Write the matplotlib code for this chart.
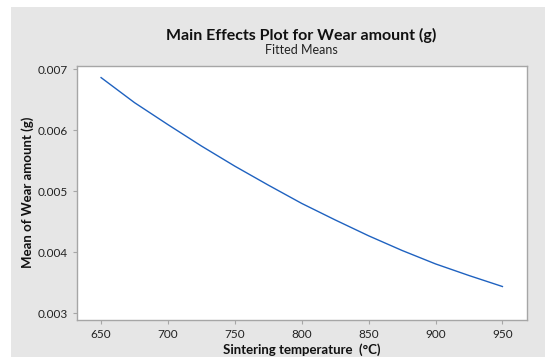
import numpy as np
import matplotlib.pyplot as plt
from matplotlib.patches import Rectangle

# sintering temperature (C) and fitted mean wear amount (g)
temps = [650, 675, 700, 725, 750, 775, 800, 825, 850, 875, 900, 925, 950]
wear = [0.00686, 0.00645, 0.00609, 0.00574, 0.00541, 0.00510, 0.00480,
        0.00453, 0.00427, 0.00403, 0.00381, 0.00362, 0.00344]

xticks = [650, 700, 750, 800, 850, 900, 950]
yticks = [0.003, 0.004, 0.005, 0.006, 0.007]

plt.rcParams['font.family'] = ['Lato', 'DejaVu Sans']

fig = plt.figure(figsize=(5.45, 3.58), dpi=100)
fig.patch.set_facecolor('white')
# grey panel behind the plot
fig.patches.append(Rectangle((11 / 545, 1 / 358), 1, 1 - 8 / 358,
                             transform=fig.transFigure, facecolor='#e6e6e6',
                             edgecolor='none', zorder=-1))

ax = fig.add_axes([77 / 545, 1 - 319.5 / 358, (526.5 - 77) / 545, (319.5 - 66) / 358])
ax.set_zorder(2)
ax.set_facecolor('white')
ax.plot(temps, wear, color='#1f62c0', lw=1.0)

ax.set_xlim(632, 968)
ax.set_ylim(0.0029, 0.00705)
ax.set_xticks(xticks)
ax.set_yticks(yticks)
ax.set_yticklabels(['%.3f' % v for v in yticks])
for s in ax.spines.values():
    s.set_color('#a6a6a6')
    s.set_linewidth(1.0)
ax.tick_params(colors='#a6a6a6', labelcolor='#222222', labelsize=8.5,
               length=3, width=0.8)

ax.set_xlabel('Sintering temperature  (°C)', fontsize=9.5, fontweight='bold',
              color='#111111', labelpad=3)
ax.set_ylabel('Mean of Wear amount (g)', fontsize=9.5, fontweight='bold',
              color='#111111', labelpad=3)

fig.text(0.553, 1 - 40 / 358, 'Main Effects Plot for Wear amount (g)',
         ha='center', va='baseline', fontsize=11.5, fontweight='bold', color='#111111')
fig.text(0.553, 1 - 54 / 358, 'Fitted Means', ha='center', va='baseline',
         fontsize=9, color='#222222')

fig.savefig('out.png', dpi=100)
